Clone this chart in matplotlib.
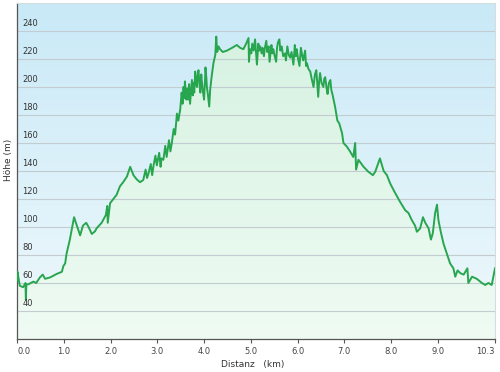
import numpy as np
import matplotlib
matplotlib.use("Agg")
import matplotlib.pyplot as plt
from matplotlib.colors import LinearSegmentedColormap
from matplotlib.transforms import blended_transform_factory

dist_km = [0.00, 0.01, 0.06, 0.13, 0.18, 0.19, 0.20, 0.24, 0.35, 0.41, 0.49, 0.55, 0.60,
           0.71, 0.85, 0.96, 0.99, 1.03, 1.06, 1.13, 1.22, 1.29, 1.35, 1.41, 1.48, 1.53,
           1.60, 1.67, 1.70, 1.81, 1.90, 1.93, 1.94, 1.99, 2.06, 2.13, 2.20, 2.27, 2.35,
           2.42, 2.49, 2.56, 2.63, 2.70, 2.75, 2.78, 2.81, 2.86, 2.89, 2.92, 2.96, 2.99,
           3.04, 3.07, 3.09, 3.13, 3.17, 3.20, 3.25, 3.28, 3.31, 3.35, 3.38,
           3.42, 3.45, 3.49, 3.52, 3.54, 3.56, 3.58, 3.59, 3.62, 3.64, 3.66, 3.68, 3.70,
           3.72, 3.74, 3.76, 3.77, 3.79, 3.81, 3.83, 3.85, 3.86, 3.88, 3.90, 3.92, 3.94,
           3.95, 3.97, 4.00, 4.02, 4.03, 4.05, 4.06, 4.08, 4.11, 4.13, 4.16, 4.18, 4.20,
           4.24, 4.26, 4.28, 4.31, 4.34, 4.40, 4.49, 4.60, 4.70, 4.77, 4.84, 4.90,
           4.95, 4.96, 4.98, 5.01, 5.03, 5.06, 5.09, 5.11, 5.13, 5.16,
           5.18, 5.20, 5.23, 5.25, 5.28, 5.30, 5.33, 5.35, 5.38, 5.40,
           5.44, 5.46, 5.48, 5.51, 5.54, 5.56, 5.58, 5.61, 5.63, 5.66,
           5.69, 5.73, 5.75, 5.78, 5.81, 5.84, 5.87, 5.91, 5.94, 5.96,
           5.98, 6.01, 6.04, 6.07, 6.10, 6.12, 6.16, 6.18, 6.20, 6.23,
           6.27, 6.30, 6.34, 6.37, 6.40, 6.42, 6.44, 6.46, 6.48, 6.51,
           6.55, 6.57, 6.59, 6.62, 6.64, 6.67, 6.70, 6.72, 6.75, 6.80,
           6.85, 6.89, 6.95, 6.98, 7.05, 7.12, 7.19, 7.23, 7.25, 7.30,
           7.41, 7.51, 7.61, 7.66, 7.73, 7.76, 7.84, 7.91, 7.98, 8.09,
           8.19, 8.30, 8.37, 8.44, 8.51, 8.55, 8.62, 8.68, 8.73, 8.80,
           8.85, 8.89, 8.94, 8.98, 9.01, 9.06, 9.12, 9.19, 9.26, 9.33,
           9.37, 9.42, 9.48, 9.55, 9.63, 9.65, 9.73, 9.83, 9.94, 10.01,
           10.08, 10.15, 10.20, 10.22]
elev_m = [62, 68, 58, 57, 60, 48, 59, 59, 61, 60, 64, 66, 63,
          64, 66.5, 68, 72, 74, 81, 91, 107, 100, 94, 101, 103, 100,
          95, 97, 99, 103, 108.6, 115, 103, 117, 120, 123, 129, 132, 136,
          143, 137, 134, 132, 133.6, 141, 135, 138, 145, 137, 144, 151, 144,
          153, 143, 149, 148, 158, 150, 162, 154, 160, 170, 166,
          181, 176, 184, 196, 188, 200, 192, 204, 191, 199, 191, 202, 188,
          197, 205, 194, 203, 196, 211, 202, 200, 208, 212, 203, 196, 209,
          205, 198, 191, 205, 214, 206, 200, 195, 186, 198, 207, 212, 217,
          223, 236, 225, 229, 227, 225, 226, 228, 230, 228, 227, 231,
          235, 218, 227, 224, 231, 226, 234, 225, 216, 231,
          226, 229, 224, 228, 222, 228, 233, 225, 229, 218,
          230, 224, 227, 222, 218, 228, 232, 234, 226, 229,
          222, 224, 219, 229, 223, 221, 225, 216, 230, 222,
          227, 220, 215, 228, 222, 219, 226, 215, 217, 213,
          211, 206, 200, 209, 212, 203, 193, 204, 210, 203,
          200, 206, 207, 199, 195, 203, 205, 198, 194, 186,
          176, 174, 167, 160, 157.5, 154, 150, 160, 141, 148,
          143, 139.5, 137, 139.5, 146, 149, 140, 137, 131, 124,
          118, 112, 110, 105, 101, 96.6, 99, 107, 103, 99,
          91, 95.5, 110, 116, 105, 96.6, 88, 81, 74, 70.5,
          64.5, 69, 67, 66, 70.5, 60, 64.5, 63, 60, 58.6,
          60, 58.6, 67, 70.5]

y_ticks = [40, 60, 80, 100, 120, 140, 160, 180, 200, 220, 240]
x_ticks = [0, 1, 2, 3, 4, 5, 6, 7, 8, 9]
x_tick_labels = ["0.0", "1.0", "2.0", "3.0", "4.0", "5.0", "6.0", "7.0", "8.0", "9.0"]
total_label = "10.3"

x = np.array(dist_km)
y = np.array(elev_m)
assert len(x) == len(y)
xmin, xmax = 0, x[-1]
ymin, ymax = 20, 260

fig = plt.figure(figsize=(5.0, 3.72), dpi=100)
ax = fig.add_axes([17/500, 33/372, 478/500, 336/372])
ax.set_xlim(xmin, xmax)
ax.set_ylim(ymin, ymax)

# background gradient (light blue top -> paler bottom)
bg_cmap = LinearSegmentedColormap.from_list("bg", ["#eff9fc", "#c9e9f7"])
grad = np.linspace(0, 1, 256).reshape(-1, 1)
ax.imshow(grad, extent=[xmin, xmax, ymin, ymax], aspect="auto", origin="lower",
          cmap=bg_cmap, zorder=0)

# green gradient fill under curve
fill_cmap = LinearSegmentedColormap.from_list("fill", ["#effbf3", "#d4f1e0"])
poly = ax.fill_between(x, y, ymin, color="none", lw=0, zorder=1)
im = ax.imshow(grad, extent=[xmin, xmax, ymin, ymax], aspect="auto", origin="lower",
               cmap=fill_cmap, zorder=1)
path = poly.get_paths()[0]
im.set_clip_path(path, transform=ax.transData)

# grid lines
for v in y_ticks:
    ax.axhline(v, color="#c3ccd0", lw=0.8, zorder=2)

ax.plot(x, y, color="#28a64f", lw=1.4, zorder=4)

# y labels inside plot
trans = blended_transform_factory(ax.transAxes, ax.transData)
for v in y_ticks:
    ax.text(0.011, v + 1.8, str(v), transform=trans, fontsize=6, color="#333333",
            ha="left", va="bottom", zorder=5)
ax.set_yticks([])

# x ticks
ax.set_xticks(x_ticks + [xmax])
ax.set_xticklabels(x_tick_labels + [total_label], fontsize=6, color="#444444")
ax.tick_params(axis="x", direction="out", length=3, width=0.8, color="#555555", pad=3)
lbls = ax.get_xticklabels()
lbls[0].set_ha("left")
lbls[-1].set_ha("right")

for s in ["top", "right"]:
    ax.spines[s].set_color("#d4dde0")
    ax.spines[s].set_linewidth(0.8)
for s in ["left", "bottom"]:
    ax.spines[s].set_color("#555555")
    ax.spines[s].set_linewidth(0.9)

fig.text(253/500, 1 - 364/372, "Distanz   (km)", fontsize=6.5, color="#333333",
         ha="center", va="center")
fig.text(8/500, 1 - 160/372, "Höhe (m)", fontsize=6.5, color="#333333",
         ha="center", va="center", rotation=90)

fig.savefig("out.png", dpi=100)
